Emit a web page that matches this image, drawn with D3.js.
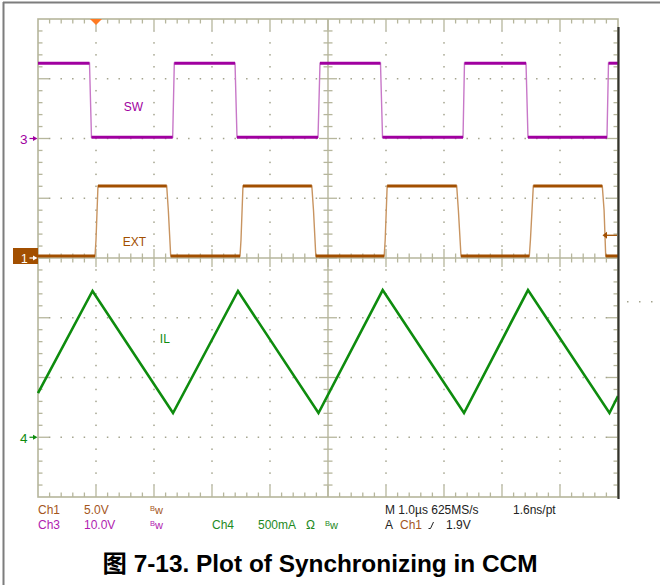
<!DOCTYPE html>
<html><head><meta charset="utf-8">
<script src="https://cdn.jsdelivr.net/npm/d3@7/dist/d3.min.js"></script>
<style>
body{margin:0;background:#fff}
svg{display:block}
text{font-family:"Liberation Sans",Arial,"Noto Sans CJK SC",sans-serif}
</style>
</head><body>
<svg id="c" width="660" height="585"></svg>
<script>
// ---------------- data ----------------
// time axis: 1.0 µs/div, 10 divisions
const timeDomain = [0, 10];
const divDomain = [-4, 4];

// Ch3 – SW node (10 V/div, marker at +2 div)
const swTime = [0, 0.888, 0.922, 2.322, 2.350, 3.397, 3.431, 4.828, 4.862, 5.905, 5.940, 7.328, 7.353, 8.414, 8.448, 9.810, 9.836, 10];
const swVolt = [12.6, 12.6, 0.2, 0.2, 12.6, 12.6, 0.2, 0.2, 12.6, 12.6, 0.2, 0.2, 12.6, 12.6, 0.2, 0.2, 12.6, 12.6];

// Ch1 – EXT sync clock (5 V/div, marker at 0 div)
const extTime = [0, 0.983, 1.000, 1.034, 2.219, 2.247, 2.288, 3.483, 3.500, 3.534, 4.721, 4.750, 4.790, 5.969, 5.986, 6.020, 7.219, 7.248, 7.293, 8.471, 8.490, 8.540, 9.729, 9.760, 9.788, 10];
const extVolt = [0.17, 0.17, 1.5, 6.03, 6.03, 4.0, 0.17, 0.17, 1.5, 6.03, 6.03, 4.0, 0.17, 0.17, 1.5, 6.03, 6.03, 4.0, 0.17, 0.17, 1.5, 6.03, 6.03, 4.0, 0.17, 0.17];

// Ch4 – inductor current IL (500 mA/div, marker at -3 div)
const ilTime = [0, 0.940, 2.328, 3.448, 4.836, 5.943, 7.345, 8.448, 9.853, 10];
const ilAmp  = [0.37, 1.224, 0.203, 1.224, 0.203, 1.232, 0.203, 1.232, 0.203, 0.345];

// channel settings
const channels = [
  {name: "SW",  scale: 10,  offset: 2,  t: swTime,  v: swVolt,  color: "#a000a0", light: "#c878c8", marker: "3"},
  {name: "EXT", scale: 5,   offset: 0,  t: extTime, v: extVolt, color: "#a24f00", light: "#c89460", marker: "1"},
  {name: "IL",  scale: 0.5, offset: -3, t: ilTime,  v: ilAmp,   color: "#0e8c0e", light: "#0e8c0e", marker: "4"}
];

// readout texts
const readRow1 = [["Ch1", "brown"], ["5.0V", "brown"]];
const readRow2 = [["Ch3", "purple"], ["10.0V", "purple"], ["Ch4", "green"], ["500mA", "green"]];
const timebase = "M 1.0µs 625MS/s";
const recordRes = "1.6ns/pt";
const triggerSrc = "Ch1";
const triggerLevel = "1.9V";
const triggerTime = 1.0;   // µs, trigger position marker
const triggerVolts = 1.9;  // V on Ch1
const caption = "图 7-13. Plot of Synchronizing in CCM";

// ---------------- drawing ----------------
const L = 38, R = 618, T = 19, B = 497;
const x = d3.scaleLinear().domain(timeDomain).range([L, R]);
const y = d3.scaleLinear().domain(divDomain).range([B, T]);
const svg = d3.select("#c");
const gridC = "#b6b69c", dotC = "#a4a48e";
const cols = {brown: "#a4561c", purple: "#b01cb0", green: "#1e8a1e", black: "#222"};

// outer page border
svg.append("line").attr("x1", 3.5).attr("x2", 3.5).attr("y1", 2).attr("y2", 585).attr("stroke", "#7d7d7d").attr("stroke-width", 2);
svg.append("line").attr("x1", 3).attr("x2", 660).attr("y1", 2.5).attr("y2", 2.5).attr("stroke", "#7d7d7d").attr("stroke-width", 2);

const g = svg.append("g");
const minorX = d3.range(0, 51).map(i => i / 5);
const minorY = d3.range(0, 41).map(i => i / 5 - 4);
const isMajor = v => Math.abs(v - Math.round(v)) < 1e-6;

// grid dots
for (let k = 1; k < 10; k++) {
  if (k === 5) continue;
  minorY.forEach(v => { if (v > -4 && v < 4 && !isMajor(v)) g.append("rect").attr("x", x(k) - 0.75).attr("y", y(v) - 0.75).attr("width", 1.5).attr("height", 1.5).attr("fill", dotC); });
}
for (let j = -3; j <= 3; j++) {
  if (j === 0) continue;
  minorX.forEach(u => { if (u > 0 && u < 10 && Math.abs(u - 5) > 1e-6) g.append("rect").attr("x", x(u) - 0.75).attr("y", y(j) - 0.75).attr("width", 1.5).attr("height", 1.5).attr("fill", dotC); });
}
// frame
g.append("rect").attr("x", L).attr("y", T).attr("width", R - L).attr("height", B - T).attr("fill", "none").attr("stroke", gridC).attr("stroke-width", 1.6);
// edge ticks
minorX.forEach(u => {
  if (u <= 0 || u >= 10) return;
  const len = isMajor(u) ? 11 : 4.5;
  g.append("line").attr("x1", x(u)).attr("x2", x(u)).attr("y1", T).attr("y2", T + len).attr("stroke", gridC).attr("stroke-width", 1.3);
  g.append("line").attr("x1", x(u)).attr("x2", x(u)).attr("y1", B).attr("y2", B - len).attr("stroke", gridC).attr("stroke-width", 1.3);
  const c = isMajor(u) ? 9 : 4.5;
  g.append("line").attr("x1", x(u)).attr("x2", x(u)).attr("y1", y(0) - c).attr("y2", y(0) + c).attr("stroke", gridC).attr("stroke-width", 1.3);
});
minorY.forEach(v => {
  if (v <= -4 || v >= 4) return;
  const len = isMajor(v) ? 11 : 4.5;
  g.append("line").attr("y1", y(v)).attr("y2", y(v)).attr("x1", L).attr("x2", L + len).attr("stroke", gridC).attr("stroke-width", 1.3);
  g.append("line").attr("y1", y(v)).attr("y2", y(v)).attr("x1", R).attr("x2", R - len).attr("stroke", gridC).attr("stroke-width", 1.3);
  const c = isMajor(v) ? 9 : 4.5;
  g.append("line").attr("y1", y(v)).attr("y2", y(v)).attr("x1", x(5) - c).attr("x2", x(5) + c).attr("stroke", gridC).attr("stroke-width", 1.3);
});
// centre cross
g.append("line").attr("x1", L).attr("x2", R).attr("y1", y(0)).attr("y2", y(0)).attr("stroke", gridC).attr("stroke-width", 1.4);
g.append("line").attr("x1", x(5)).attr("x2", x(5)).attr("y1", T).attr("y2", B).attr("stroke", gridC).attr("stroke-width", 1.4);

// stray dots right of the screen
[627, 639, 651].forEach(px => svg.append("rect").attr("x", px).attr("y", 301).attr("width", 1.5).attr("height", 1.5).attr("fill", dotC));

// traces
channels.forEach(ch => {
  const pts = ch.t.map((t, i) => ({t, v: ch.v[i]}));
  const yy = d => y(d.v / ch.scale + ch.offset);
  const line = d3.line().x(d => x(d.t)).y(yy);
  if (ch.name === "IL") {
    svg.append("path").attr("d", line(pts)).attr("fill", "none").attr("stroke", ch.color).attr("stroke-width", 2.6).attr("stroke-linejoin", "miter");
  } else {
    svg.append("path").attr("d", line(pts)).attr("fill", "none").attr("stroke", ch.light).attr("stroke-width", 1.4);
    for (let i = 0; i < pts.length - 1; i++) {
      if (pts[i].v === pts[i + 1].v) {
        svg.append("line").attr("x1", x(pts[i].t)).attr("x2", x(pts[i + 1].t)).attr("y1", yy(pts[i])).attr("y2", yy(pts[i + 1]))
          .attr("stroke", ch.color).attr("stroke-width", 3);
      }
    }
  }
});

// right screen edge
svg.append("line").attr("x1", R + 0.5).attr("x2", R + 0.5).attr("y1", 27).attr("y2", 499).attr("stroke", "#33332c").attr("stroke-width", 2.2);

// trace labels
svg.append("text").attr("x", x(1.48)).attr("y", 111).attr("font-size", 12).attr("fill", "#a000a0").text("SW");
svg.append("text").attr("x", x(1.46)).attr("y", 245.5).attr("font-size", 12).attr("fill", "#a24f00").text("EXT");
svg.append("text").attr("x", x(2.1)).attr("y", 343).attr("font-size", 12).attr("fill", "#0e8c0e").text("IL");

// channel ground markers
function arrow(yc, color) {
  svg.append("line").attr("x1", 29.5).attr("x2", 34).attr("y1", yc).attr("y2", yc).attr("stroke", color).attr("stroke-width", 1.2);
  svg.append("path").attr("d", `M33,${yc - 2.6}L37.5,${yc}L33,${yc + 2.6}Z`).attr("fill", color);
}
channels.forEach(ch => {
  const yc = y(ch.offset);
  if (ch.marker === "1") {
    svg.append("rect").attr("x", 13).attr("y", yc - 10).attr("width", 25).attr("height", 16).attr("fill", "#a24f00");
    svg.append("text").attr("x", 21).attr("y", yc + 4.5).attr("font-size", 12).attr("fill", "#fff").text(ch.marker);
    arrow(yc, "#fff");
  } else {
    svg.append("text").attr("x", 20).attr("y", yc + 5.5).attr("font-size", 13.5).attr("fill", ch.color).text(ch.marker);
    arrow(yc, ch.color);
  }
});

// trigger position marker (top)
svg.append("path").attr("d", `M${x(triggerTime) - 6},${T}L${x(triggerTime) + 6},${T}L${x(triggerTime)},${T + 6}Z`).attr("fill", "#ff7a22");
// trigger level marker (right)
const ty = y(triggerVolts / 5);
svg.append("line").attr("x1", 606).attr("x2", 617).attr("y1", ty).attr("y2", ty).attr("stroke", "#a24f00").attr("stroke-width", 1.3);
svg.append("path").attr("d", `M602.5,${ty}L607,${ty - 3.5}L607,${ty + 3.5}Z`).attr("fill", "#a24f00");

// readout
const rx = [38, 84];
readRow1.forEach((d, i) => svg.append("text").attr("x", rx[i]).attr("y", 514).attr("font-size", 12).attr("fill", cols[d[1]]).text(d[0]));
const rx2 = [38, 84, 212, 258];
readRow2.forEach((d, i) => svg.append("text").attr("x", rx2[i]).attr("y", 529).attr("font-size", 12).attr("fill", cols[d[1]]).text(d[0]));
function bw(px, py, color) {
  const t = svg.append("text").attr("x", px).attr("y", py).attr("fill", color);
  t.append("tspan").attr("font-size", 7.5).attr("dy", -3.5).text("B");
  t.append("tspan").attr("font-size", 11).attr("dy", 3.5).text("w");
}
bw(150, 514, cols.brown);
bw(150, 529, cols.purple);
bw(325, 529, cols.green);
svg.append("text").attr("x", 306).attr("y", 529).attr("font-size", 12).attr("fill", cols.green).text("Ω");
svg.append("text").attr("x", 385).attr("y", 514).attr("font-size", 12).attr("fill", cols.black).text(timebase);
svg.append("text").attr("x", 513).attr("y", 514).attr("font-size", 12).attr("fill", cols.black).text(recordRes);
svg.append("text").attr("x", 385).attr("y", 529).attr("font-size", 12).attr("fill", cols.black).text("A");
svg.append("text").attr("x", 400).attr("y", 529).attr("font-size", 12).attr("fill", cols.brown).text(triggerSrc);
svg.append("path").attr("d", "M428.5,528.5L430.5,528.5L433.5,522").attr("fill", "none").attr("stroke", cols.black).attr("stroke-width", 1);
svg.append("text").attr("x", 446).attr("y", 529).attr("font-size", 12).attr("fill", cols.black).text(triggerLevel);

// caption
svg.append("text").attr("x", 320).attr("y", 572).attr("text-anchor", "middle").attr("font-size", 24.4).attr("font-weight", "bold").attr("fill", "#000").text(caption);
</script>
</body></html>
